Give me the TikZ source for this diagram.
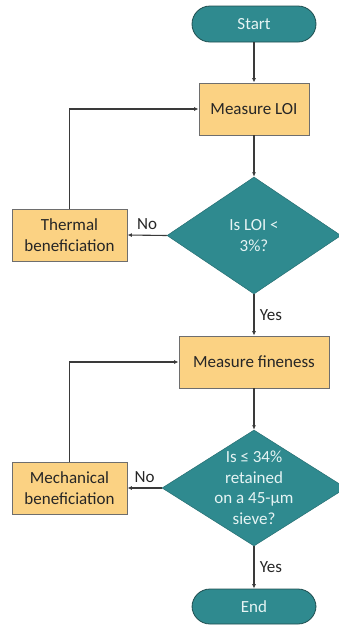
\documentclass[tikz,border=0pt]{standalone}
\usepackage{fontspec}
\setmainfont{Carlito}
\usetikzlibrary{shapes.geometric,arrows.meta}
\definecolor{teal1}{HTML}{2F8A8F}
\definecolor{tealdark}{HTML}{1F4E50}
\definecolor{boxfill}{HTML}{FBD283}
\definecolor{boxline}{HTML}{6E6E6E}
\definecolor{lineclr}{HTML}{3A3A3A}
\definecolor{lighttext}{HTML}{E6F4F4}
\tikzset{
  term/.style={shape=rectangle, rounded corners=18pt, fill=teal1, draw=tealdark, line width=0.8pt,
    minimum width=124pt, minimum height=36pt, text=lighttext, font=\fontsize{17}{20.5}\selectfont},
  procbox/.style={shape=rectangle, fill=boxfill, draw=boxline, line width=0.9pt,
    minimum height=52pt, text=black!85, font=\fontsize{17}{20.5}\selectfont, align=center},
  decide/.style={shape=diamond, fill=teal1, draw=teal1!80!black, line width=0.5pt, inner sep=0pt},
  decidetext/.style={text=lighttext, font=\fontsize{17}{20.5}\selectfont, align=center, inner sep=0pt},
  flow/.style={draw=lineclr, line width=1.1pt, -{Latex[length=4.5pt,width=4pt]}},
  lbl/.style={font=\fontsize{17}{20}\selectfont, text=black!85}
}
\begin{document}
\begin{tikzpicture}[x=1pt,y=-1pt]
\useasboundingbox (0,0) rectangle (339,625);
\node[term] (start) at (254,24) {Start};
\node[procbox, minimum width=110pt] (loi) at (254,109) {Measure LOI};
\node[decide, minimum width=174pt, minimum height=117pt] (d1) at (254,235.5) {};
\node[decidetext] (d1t) at (d1.center) {Is LOI <\\3\%?};
\node[procbox, minimum width=115pt] (thermal) at (69.5,235) {Thermal\\beneficiation};
\node[procbox, minimum width=150pt] (fine) at (254,362) {Measure fineness};
\node[decide, minimum width=184pt, minimum height=116pt] (d2) at (254,488) {};
\node[decidetext] (d2t) at (d2.center) {Is ≤ 34\%\\retained\\on a 45-µm\\sieve?};
\node[procbox, minimum width=115pt] (mech) at (69.5,488) {Mechanical\\beneficiation};
\node[term, minimum height=35pt] (end) at (254,606.5) {End};

\draw[flow] (start) -- (loi);
\draw[flow] (loi) -- (d1);
\draw[flow] (d1.west) -- node[lbl, above=2pt, pos=0.5] (no1) {No} (thermal.east);
\draw[flow] (thermal.north) |- (loi.west);
\draw[flow] (d1.south) -- node[lbl, right=2pt, pos=0.5] (yes1) {Yes} (fine.north);
\draw[flow] (fine) -- (d2);
\draw[flow] (d2.west) -- node[lbl, above=2pt, pos=0.5] (no2) {No} (mech.east);
\draw[flow] (mech.north) |- (fine.west);
\draw[flow] (d2.south) -- node[lbl, right=2pt, pos=0.5] (yes2) {Yes} (end.north);
\end{tikzpicture}
\end{document}
